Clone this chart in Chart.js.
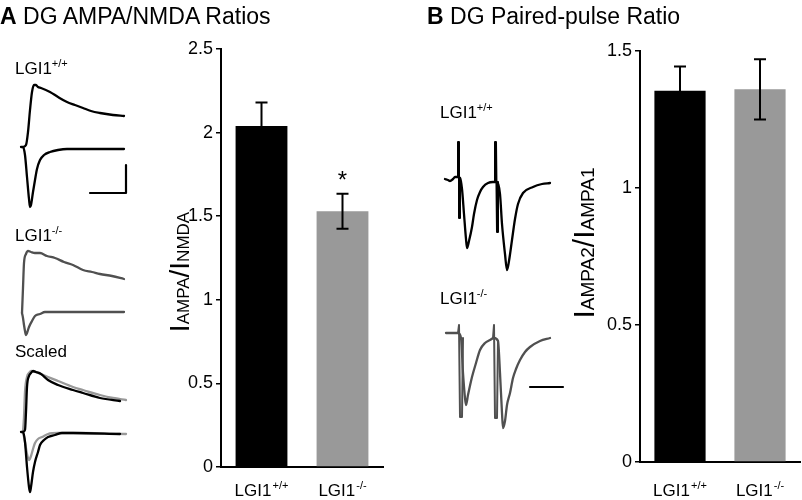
<!DOCTYPE html>
<html>
<head>
<meta charset="utf-8">
<script src="https://cdn.jsdelivr.net/npm/chart.js@4.4.1/dist/chart.umd.min.js"></script>
<style>
  body { margin: 0; background: #fff; }
  #wrap { position: relative; width: 802px; height: 500px; overflow: hidden; font-family: "Liberation Sans", Arial, sans-serif; }
  #wrap canvas { position: absolute; left: 0; top: 0; }
  .txt { position: absolute; white-space: nowrap; line-height: 1; color: #000; }
  .ttl { font-size: 23px; }
  .lab { font-size: 17px; }
  .lab sup { font-size: 11px; vertical-align: 7px; line-height: 0; }
</style>
</head>
<body>
<div id="wrap">
  <canvas id="trA1" width="802" height="500"></canvas>
  <canvas id="trA2" width="802" height="500"></canvas>
  <canvas id="trA3" width="802" height="500"></canvas>
  <canvas id="trB1" width="802" height="500"></canvas>
  <canvas id="trB2" width="802" height="500"></canvas>
  <canvas id="barA" width="802" height="500"></canvas>
  <canvas id="barB" width="802" height="500"></canvas>

  <div class="txt ttl" style="left:0px; top:5px;"><b>A</b> DG AMPA/NMDA Ratios</div>
  <div class="txt ttl" style="left:427px; top:5px;"><b>B</b> DG Paired-pulse Ratio</div>
  <div class="txt lab" style="left:15px; top:60px;">LGI1<sup>+/+</sup></div>
  <div class="txt lab" style="left:15px; top:227px;">LGI1<sup>-/-</sup></div>
  <div class="txt lab" style="left:15px; top:343px;">Scaled</div>
  <div class="txt lab" style="left:440px; top:104px;">LGI1<sup>+/+</sup></div>
  <div class="txt lab" style="left:440px; top:290px;">LGI1<sup>-/-</sup></div>
</div>

<script>
// ---- bar data ----
const groups = ['LGI1+/+', 'LGI1-/-'];
const barColors = ['#000000', '#999999'];
const ampaNmdaRatio = [2.04, 1.53];
const ampaNmdaSem = [0.14, 0.105];
const ampaNmdaMarks = ['', '*'];
const ampaNmdaTicks = [0, 0.5, 1, 1.5, 2, 2.5];
const pprRatio = [1.355, 1.36];
const pprSem = [0.088, 0.11];
const pprMarks = ['', ''];
const pprTicks = [0, 0.5, 1, 1.5];

// ---- example traces, [ms, pA] ----
// A, LGI1+/+ : +40 mV (NMDA) and -70 mV (AMPA)
const wtNmda = [[0,0],[3,2],[5,15],[7,37],[9,55],[11,62],[13,62],[15,60],[18,59],[27,55],[35,50],[44,45],[52,42],[60,39],[68,36],[77,34],[90,32],[101,31]];
const wtAmpa = [[-2,0],[0,0],[2,-8],[4,-30],[6,-52],[7,-60],[8,-58],[10,-45],[12,-33],[14,-22],[17,-13],[21,-8],[27,-5],[35,-3],[44,-2],[70,-2],[101,-2]];
const wtScaleBar = [[67,-46],[103,-46],[103,-18]];
// A, LGI1-/-
const koNmda = [[0,0],[1,25],[2,50],[4,59],[6,62],[9,61],[13,60],[18,60],[25,57],[33,55],[42,51],[51,48],[61,43],[70,41],[78,39],[90,37],[102,34]];
const koAmpa = [[0,0],[1,-5],[2,-12],[3,-18],[4,-22],[5,-20],[7,-14],[10,-8],[13,-3],[18,-1],[23,1],[35,1],[60,1],[102,1]];
// A, scaled overlay
const scWtNmda = [[0,0],[2,2],[3,20],[4,45],[6,56],[8,59],[10,61],[13,60],[18,58],[25,52],[35,47],[50,42],[60,39],[77,34],[97,31]];
const scWtAmpa = [[-2,0],[0,0],[2,-10],[4,-35],[6,-55],[7,-60],[8,-55],[10,-40],[12,-30],[15,-20],[17,-13],[21,-8],[25,-5],[32,-3],[39,-1],[50,-1],[97,-2]];
const scKoNmda = [[0,0],[1,15],[2,40],[4,55],[6,59],[8,61],[12,60],[18,58],[25,55],[35,51],[50,45],[60,42],[77,37],[90,34],[103,32]];
const scKoAmpa = [[0,0],[2,-10],[4,-22],[6,-28],[8,-24],[10,-17],[12,-11],[15,-7],[19,-5],[25,-2],[35,-1],[60,-1],[103,-2]];
// B, paired pulse
const wtPair = [[0,0],[3,-1],[5,-2],[8,0],[10,2],[13,2],[15,1],[17,-10],[19,-35],[21,-60],[22,-69],[24,-62],[27,-48],[29,-35],[32,-21],[35,-13],[38,-8],[43,-4],[48,-3],[52,-3],[55,-15],[57,-45],[60,-75],[62,-91],[64,-82],[67,-61],[70,-40],[73,-25],[78,-14],[88,-8],[97,-5],[105,-4]];
const wtStim1 = [[13,2],[13,37],[14,37],[14,-39],[15,-39],[15,1]];
const wtStim2 = [[50,-3],[50,37],[51,37],[52,-53],[53,-53],[53,-3]];
const koPair = [[0,0],[12,0],[15,-5],[17,-40],[19,-65],[20,-72],[22,-62],[26,-44],[30,-30],[34,-17],[39,-10],[44,-7],[48,-5],[52,-8],[54,-40],[56,-80],[57,-95],[59,-88],[61,-72],[64,-60],[67,-45],[70,-36],[74,-27],[79,-19],[84,-14],[94,-8],[104,-5]];
const koStim1 = [[12,0],[13,8],[14,-84],[16,-84],[17,-5]];
const koStim2 = [[47,-5],[48,8],[49,-85],[51,-85],[52,-8]];
const koScaleBar = [[84,-54],[117,-54]];

const FONT = '"Liberation Sans", Arial, sans-serif';
const W = 802, H = 500;

function pts(arr) { return arr.map(p => ({ x: p[0], y: p[1] })); }

function line(data, color, smooth, width) {
  return {
    data: pts(data), borderColor: color, borderWidth: width || 2.3,
    pointRadius: 0, showLine: true, fill: false,
    tension: smooth ? 0.4 : 0, cubicInterpolationMode: smooth ? 'monotone' : 'default',
    borderCapStyle: 'round', borderJoinStyle: 'round'
  };
}

// origin = pixel where t=0, I=0 sits; x/y = data ranges shown
function traceChart(id, origin, xr, yr, sets) {
  new Chart(document.getElementById(id), {
    type: 'scatter',
    data: { datasets: sets },
    options: {
      responsive: false, animation: false, devicePixelRatio: 1,
      layout: { padding: {
        left: origin[0] + xr[0], right: W - (origin[0] + xr[1]),
        top: origin[1] - yr[1], bottom: H - (origin[1] - yr[0])
      } },
      plugins: { legend: { display: false }, tooltip: { enabled: false } },
      scales: {
        x: { type: 'linear', min: xr[0], max: xr[1], display: false },
        y: { type: 'linear', min: yr[0], max: yr[1], display: false }
      }
    }
  });
}

traceChart('trA1', [23, 147], [-5, 110], [-70, 70], [
  line(wtNmda, '#000', true), line(wtAmpa, '#000', true), line(wtScaleBar, '#000', false, 2.2)
]);
traceChart('trA2', [22, 313], [-5, 110], [-40, 70], [
  line(koNmda, '#505050', true), line(koAmpa, '#505050', true)
]);
traceChart('trA3', [23, 432], [-5, 110], [-68, 70], [
  line(scWtNmda, '#000', true), line(scWtAmpa, '#000', true),
  line(scKoNmda, '#999', true), line(scKoAmpa, '#999', true)
]);
traceChart('trB1', [445, 179], [-5, 125], [-100, 45], [
  line(wtPair, '#000', true), line(wtStim1, '#000', false, 2), line(wtStim2, '#000', false, 2)
]);
traceChart('trB2', [446, 333], [-5, 125], [-100, 20], [
  line(koPair, '#505050', true), line(koStim1, '#505050', false, 2), line(koStim2, '#505050', false, 2),
  line(koScaleBar, '#000', false, 2.2)
]);

// error bars + asterisks
const errorBars = {
  id: 'errorBars',
  afterDatasetsDraw(chart, args, opts) {
    const ctx = chart.ctx, ys = chart.scales.y;
    const meta = chart.getDatasetMeta(0);
    const vals = chart.data.datasets[0].data;
    ctx.save();
    ctx.strokeStyle = '#000';
    ctx.fillStyle = '#000';
    ctx.lineWidth = 2;
    meta.data.forEach((bar, i) => {
      const hi = ys.getPixelForValue(vals[i] + opts.errs[i]);
      const lo = ys.getPixelForValue(vals[i] - opts.errs[i]);
      ctx.beginPath();
      ctx.moveTo(bar.x, lo); ctx.lineTo(bar.x, hi);
      ctx.moveTo(bar.x - 6, hi); ctx.lineTo(bar.x + 6, hi);
      ctx.moveTo(bar.x - 6, lo); ctx.lineTo(bar.x + 6, lo);
      ctx.stroke();
      if (opts.marks[i]) {
        ctx.font = '24px ' + FONT;
        ctx.textAlign = 'center';
        ctx.textBaseline = 'alphabetic';
        ctx.fillText(opts.marks[i], bar.x, hi - 6);
      }
    });
    ctx.restore();
  }
};

// category labels with superscript, y title with subscripts
const richText = {
  id: 'richText',
  afterDraw(chart, args, opts) {
    const ctx = chart.ctx, xs = chart.scales.x;
    ctx.save();
    ctx.fillStyle = '#000';
    ctx.textBaseline = 'alphabetic';
    ctx.textAlign = 'left';
    chart.data.labels.forEach((lab, i) => {
      const base = lab.slice(0, 4), sup = lab.slice(4);
      ctx.font = '17px ' + FONT;
      const w1 = ctx.measureText(base).width;
      ctx.font = '11px ' + FONT;
      const w2 = ctx.measureText(sup).width;
      const x = xs.getPixelForTick(i) - (w1 + w2 + 1) / 2;
      ctx.font = '17px ' + FONT;
      ctx.fillText(base, x, opts.labelY);
      ctx.font = '11px ' + FONT;
      ctx.fillText(sup, x + w1 + 1, opts.labelY - 7);
    });
    let total = 0;
    opts.title.forEach(p => { ctx.font = p[1] + 'px ' + FONT; total += ctx.measureText(p[0]).width; });
    ctx.translate(opts.titleX, opts.titleY);
    ctx.rotate(-Math.PI / 2);
    let pos = -total / 2;
    opts.title.forEach(p => {
      ctx.font = p[1] + 'px ' + FONT;
      ctx.fillText(p[0], pos, 0);
      pos += ctx.measureText(p[0]).width;
    });
    ctx.restore();
  }
};

function barChart(id, values, errs, marks, tickList, yMax, area, rich) {
  new Chart(document.getElementById(id), {
    type: 'bar',
    data: {
      labels: groups,
      datasets: [{ data: values, backgroundColor: barColors, borderWidth: 0, barPercentage: 0.64, categoryPercentage: 1 }]
    },
    options: {
      responsive: false, animation: false, devicePixelRatio: 1,
      layout: { padding: { left: area[0] - 50, right: W - area[2], top: area[1], bottom: 0 } },
      plugins: {
        legend: { display: false }, tooltip: { enabled: false },
        errorBars: { errs: errs, marks: marks },
        richText: rich
      },
      scales: {
        x: {
          grid: { display: false },
          border: { display: true, color: '#000', width: 2 },
          ticks: { display: false },
          afterFit: s => { s.height = H - area[3]; }
        },
        y: {
          min: 0, max: yMax,
          afterBuildTicks: s => { s.ticks = tickList.map(v => ({ value: v })); },
          afterFit: s => { s.width = 50; },
          grid: { drawOnChartArea: false, drawTicks: true, tickLength: 5, color: '#000', lineWidth: 1.5 },
          border: { display: true, color: '#000', width: 2 },
          ticks: { color: '#000', font: { family: FONT, size: 18 }, padding: 3, callback: v => String(v) }
        }
      }
    },
    plugins: [errorBars, richText]
  });
}

barChart('barA', ampaNmdaRatio, ampaNmdaSem, ampaNmdaMarks, ampaNmdaTicks, 2.5, [221, 49, 383, 467], {
  labelY: 496, titleX: 189, titleY: 272,
  title: [['I', 28], ['AMPA', 17], ['/', 28], ['I', 28], ['NMDA', 17]]
});
barChart('barB', pprRatio, pprSem, pprMarks, pprTicks, 1.5, [640, 51, 800, 462], {
  labelY: 496, titleX: 594, titleY: 243,
  title: [['I', 30], ['AMPA2', 19], ['/', 30], ['I', 30], ['AMPA1', 19]]
});
</script>
</body>
</html>
